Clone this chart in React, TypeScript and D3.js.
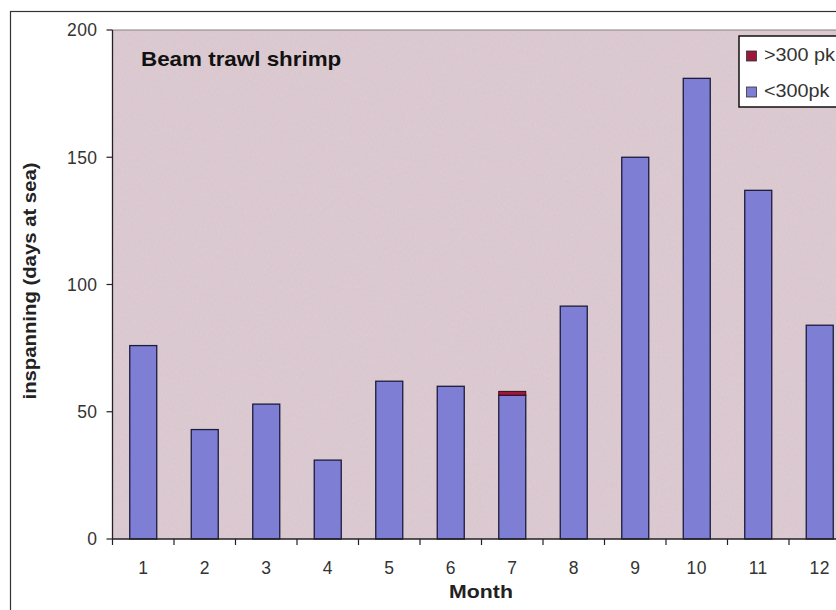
import React from "react";
import * as d3 from "d3";

const months = ["1", "2", "3", "4", "5", "6", "7", "8", "9", "10", "11", "12"];
const below300 = [76, 43, 53, 31, 62, 60, 56.5, 91.5, 150, 181, 137, 84];
const above300 = [0, 0, 0, 0, 0, 0, 1.5, 0, 0, 0, 0, 0];
const yTicks = [0, 50, 100, 150, 200];
const seriesNames = [">300 pk", "<300pk"];
const seriesColors = ["#9a1a3c", "#7e7ed4"];

const W = 836;
const H = 610;
const plotLeft = 112.5;
const plotRight = 850.5;
const plotTop = 30;
const plotBottom = 539;
const font = "Liberation Sans, Arial, sans-serif";

export default function App() {
  const x = d3.scaleBand<string>().domain(months).range([plotLeft, plotRight]).paddingInner(0.56).paddingOuter(0.28);
  const y = d3.scaleLinear().domain([0, 200]).range([plotBottom, plotTop]);
  const catW = (plotRight - plotLeft) / months.length;
  const bounds = d3.range(months.length + 1).map((i) => plotLeft + i * catW);
  const bw = 27;
  const cx = (m: string) => (x(m) as number) + x.bandwidth() / 2;
  return (
    <svg width={W} height={H} style={{ position: "absolute", left: 0, top: 0, background: "#fff" }} fontFamily={font}>
      <defs>
        <filter id="noise" x="0" y="0" width="100%" height="100%">
          <feTurbulence type="fractalNoise" baseFrequency="0.9 0.35" numOctaves="2" seed="3" result="t" />
          <feColorMatrix in="t" type="matrix" values="0 0 0 0 0.82  0 0 0 0 0.76  0 0 0 0 0.9  0 0 0 0.45 0" result="c" />
          <feComposite in="c" in2="SourceGraphic" operator="in" />
        </filter>
      </defs>
      {/* outer frame */}
      <rect x={10.5} y={11.5} width={W} height={H} fill="none" stroke="#333" strokeWidth={1.2} />
      {/* plot area */}
      <rect x={plotLeft} y={plotTop} width={plotRight - plotLeft} height={plotBottom - plotTop} fill="#d9c5cb" />
      <rect x={plotLeft} y={plotTop} width={plotRight - plotLeft} height={plotBottom - plotTop} fill="#d9c5cb" filter="url(#noise)" opacity={0.6} />
      <line x1={plotLeft} x2={plotRight} y1={plotTop} y2={plotTop} stroke="#8a7f86" strokeWidth={1} />
      {/* bars */}
      {months.map((m, i) => {
        const c = cx(m);
        const b = below300[i];
        const a = above300[i];
        return (
          <g key={m}>
            <rect x={c - bw / 2} y={y(b)} width={bw} height={y(0) - y(b)} fill={seriesColors[1]} stroke="#1c1c3c" strokeWidth={1.3} />
            {a > 0 && (
              <rect x={c - bw / 2} y={y(b + a)} width={bw} height={y(b) - y(b + a)} fill={seriesColors[0]} stroke="#3a0a18" strokeWidth={1} />
            )}
          </g>
        );
      })}
      {/* y axis */}
      <line x1={plotLeft} x2={plotLeft} y1={plotTop} y2={plotBottom} stroke="#222" strokeWidth={1.3} />
      {yTicks.map((t) => (
        <g key={t}>
          <line x1={plotLeft - 6} x2={plotLeft} y1={y(t)} y2={y(t)} stroke="#222" strokeWidth={1.2} />
          <text x={plotLeft - 15} y={y(t)} dy="0.36em" textAnchor="end" fontSize={17.5} letterSpacing={0.4} fill="#333">{t}</text>
        </g>
      ))}
      {/* x axis */}
      <line x1={plotLeft} x2={plotRight} y1={plotBottom} y2={plotBottom} stroke="#222" strokeWidth={1.3} />
      {bounds.map((bx, i) => (
        <line key={i} x1={bx} x2={bx} y1={plotBottom} y2={plotBottom + 6} stroke="#222" strokeWidth={1.2} />
      ))}
      {months.map((m) => (
        <text key={m} x={cx(m)} y={574} textAnchor="middle" fontSize={17.5} letterSpacing={0.4} fill="#333">{m}</text>
      ))}
      {/* titles */}
      <g transform="translate(141,66) scale(1.12,1)">
        <text x={0} y={0} fontSize={20} fontWeight="bold" fill="#111">Beam trawl shrimp</text>
      </g>
      <g transform="translate(481,598) scale(1.12,1)">
        <text x={0} y={0} textAnchor="middle" fontSize={19} fontWeight="bold" fill="#222">Month</text>
      </g>
      <g transform="translate(36,281) rotate(-90) scale(1.07,1)">
        <text x={0} y={0} textAnchor="middle" fontSize={19} fontWeight="bold" fill="#222">inspanning (days at sea)</text>
      </g>
      {/* legend */}
      <rect x={739} y={36} width={120} height={71} fill="#fff" stroke="#111" strokeWidth={1.5} />
      {seriesNames.map((s, i) => (
        <g key={s}>
          <rect x={746.5} y={51 + i * 36} width={10} height={10} fill={seriesColors[i]} stroke="#333" strokeWidth={0.8} />
          <g transform={`translate(764,${61 + i * 36}) scale(1.1,1)`}>
            <text x={0} y={0} fontSize={18} fill="#333">{s}</text>
          </g>
        </g>
      ))}
    </svg>
  );
}
